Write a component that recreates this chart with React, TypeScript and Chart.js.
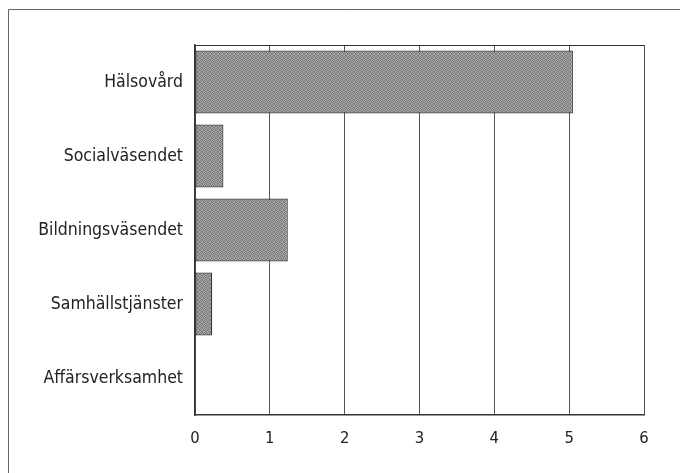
import React, { useEffect, useRef } from "react";
import { Chart, registerables } from "chart.js";

Chart.register(...registerables);

const categories = ["Hälsovård", "Socialväsendet", "Bildningsväsendet", "Samhällstjänster", "Affärsverksamhet"];
const values = [5.05, 0.38, 1.24, 0.23, 0];
const xTicks = [0, 1, 2, 3, 4, 5, 6];

const FONT = "'Liberation Sans Narrow', 'DejaVu Sans Condensed', sans-serif";

const STIPPLE = [
  "1010",
  "0101",
  "1001",
  "0110",
];

function makePattern(): CanvasPattern | string {
  const c = document.createElement("canvas");
  c.width = 4;
  c.height = 4;
  const g = c.getContext("2d");
  if (!g) return "#939393";
  g.fillStyle = "#acacac";
  g.fillRect(0, 0, 4, 4);
  g.fillStyle = "#777777";
  STIPPLE.forEach((row, y) => {
    row.split("").forEach((ch, x) => {
      if (ch === "1") g.fillRect(x, y, 1, 1);
    });
  });
  const p = g.createPattern(c, "repeat");
  return p || "#939393";
}

const framePlugin = {
  id: "frame",
  afterDraw(chart: any) {
    const { ctx, chartArea } = chart;
    ctx.save();
    ctx.strokeStyle = "#666";
    ctx.lineWidth = 1;
    ctx.beginPath();
    ctx.moveTo(0.5, chart.height);
    ctx.lineTo(0.5, 1.5);
    ctx.lineTo(chart.width, 1.5);
    ctx.stroke();
    ctx.strokeStyle = "#333";
    ctx.beginPath();
    ctx.moveTo(chartArea.left, Math.round(chartArea.top) + 0.5);
    ctx.lineTo(chartArea.right, Math.round(chartArea.top) + 0.5);
    ctx.stroke();
    ctx.restore();
  },
};

export default function App() {
  const ref = useRef<HTMLCanvasElement>(null);
  useEffect(() => {
    if (!ref.current) return;
    const chart = new Chart(ref.current, {
      type: "bar",
      data: {
        labels: categories,
        datasets: [
          {
            data: values,
            backgroundColor: makePattern() as any,
            borderColor: "#333",
            borderWidth: 1.2,
            borderSkipped: false,
            barPercentage: 0.85,
            categoryPercentage: 1,
          },
        ],
      },
      options: {
        indexAxis: "y",
        animation: false,
        responsive: true,
        maintainAspectRatio: false,
        layout: { padding: { left: 0, top: 37, right: 44, bottom: 8 } },
        plugins: { legend: { display: false }, tooltip: { enabled: false } },
        scales: {
          x: {
            min: 0,
            max: 6,
            afterBuildTicks: (s: any) => {
              s.ticks = xTicks.map((v) => ({ value: v }));
            },
            afterFit: (s: any) => {
              s.height = 50;
            },
            grid: { color: "#555", lineWidth: 1, drawTicks: false },
            border: { color: "#333", width: 1.5 },
            ticks: { padding: 14, color: "#222", font: { family: FONT, size: 16.5 } },
          },
          y: {
            afterFit: (s: any) => {
              s.width = 187;
            },
            grid: { display: false, drawTicks: false },
            border: { color: "#333", width: 1.5 },
            ticks: { padding: 12, color: "#222", font: { family: FONT, size: 17.5 } },
          },
        },
      },
      plugins: [framePlugin],
    });
    return () => chart.destroy();
  }, []);
  return (
    <div style={{ width: 680, height: 465, position: "relative" }}>
      <canvas ref={ref} />
    </div>
  );
}
